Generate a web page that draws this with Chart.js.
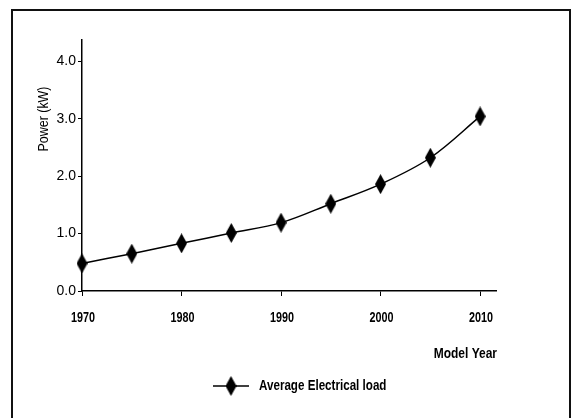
<!DOCTYPE html>
<html>
<head>
<meta charset="utf-8">
<script src="https://cdn.jsdelivr.net/npm/chart.js@4.4.0/dist/chart.umd.min.js"></script>
<style>
html, body { margin: 0; padding: 0; background: #fff; overflow: hidden; }
#wrap { position: relative; width: 572px; height: 418px; }
#frame { position: absolute; left: 11px; top: 9px; width: 556px; height: 430px; border: 2px solid #111; border-bottom: none; }
canvas { position: absolute; left: 0; top: 0; }
</style>
</head>
<body>
<div id="wrap">
  <div id="frame"></div>
  <canvas id="loadChart" width="572" height="418"></canvas>
</div>
<script>
// Data
const years = [1970, 1975, 1980, 1985, 1990, 1995, 2000, 2005, 2010];
const avgLoad = [0.48, 0.65, 0.83, 1.01, 1.19, 1.52, 1.86, 2.32, 3.04];
const xTicks = [1970, 1980, 1990, 2000, 2010];
const yTicks = [0, 1, 2, 3, 4];
const seriesLabel = 'Average Electrical load';
const xTitle = 'Model Year';
const yTitle = 'Power (kW)';

const sans = '"Liberation Sans", Arial, sans-serif';

// tall black diamond used as marker
function makeDiamond(w, h) {
    const c = document.createElement('canvas');
    c.width = w;
    c.height = h;
    const g = c.getContext('2d');
    g.fillStyle = '#000';
    g.beginPath();
    g.moveTo(w / 2, 0);
    g.lineTo(w, h / 2);
    g.lineTo(w / 2, h);
    g.lineTo(0, h / 2);
    g.closePath();
    g.fill();
    return c;
}
const diamond = makeDiamond(11, 20);

// squeezed text, the original uses a very condensed face
function narrowText(ctx, text, x, y, font, align, sx) {
    ctx.save();
    ctx.translate(x, y);
    ctx.scale(sx, 1);
    ctx.font = font;
    ctx.textAlign = align;
    ctx.textBaseline = 'middle';
    ctx.fillText(text, 0, 0);
    ctx.restore();
}

// tick years, axis titles and legend
const extras = {
    id: 'extras',
    afterDraw(chart) {
        const ctx = chart.ctx;
        const xs = chart.scales.x;
        ctx.save();
        ctx.fillStyle = '#000';

        xTicks.forEach(v => {
            narrowText(ctx, String(v), xs.getPixelForValue(v) + 1, 318, 'bold 15px ' + sans, 'center', 0.72);
        });

        ctx.save();
        ctx.translate(44, 119);
        ctx.rotate(-Math.PI / 2);
        narrowText(ctx, yTitle, 0, 0, '15px ' + sans, 'center', 0.83);
        ctx.restore();

        narrowText(ctx, xTitle, 497, 354, 'bold 15px ' + sans, 'right', 0.8);

        // legend
        ctx.strokeStyle = '#000';
        ctx.lineWidth = 1.5;
        ctx.beginPath();
        ctx.moveTo(213, 386);
        ctx.lineTo(249, 386);
        ctx.stroke();
        ctx.drawImage(diamond, 231 - 5.5, 386 - 10);
        narrowText(ctx, chart.data.datasets[0].label, 259, 386, 'bold 14px ' + sans, 'left', 0.83);
        ctx.restore();
    }
};

const ctx = document.getElementById('loadChart').getContext('2d');

new Chart(ctx, {
    type: 'line',
    data: {
        datasets: [{
            label: seriesLabel,
            data: years.map((y, i) => ({ x: y, y: avgLoad[i] })),
            borderColor: '#000',
            borderWidth: 1.5,
            tension: 0.35,
            pointStyle: diamond,
            pointRadius: 10,
            clip: false,
            fill: false
        }]
    },
    options: {
        responsive: false,
        animation: false,
        layout: { padding: { top: 40, right: 76, left: 0, bottom: 0 } },
        plugins: {
            legend: { display: false },
            tooltip: { enabled: false }
        },
        scales: {
            x: {
                type: 'linear',
                min: 1970,
                max: 2011.6,
                afterBuildTicks: (scale) => { scale.ticks = xTicks.map(v => ({ value: v })); },
                afterFit: (scale) => { scale.height = 127; },
                ticks: {
                    color: 'rgba(0,0,0,0)',
                    font: { family: sans, size: 13, weight: 'bold' },
                    padding: 14,
                    maxRotation: 0,
                    callback: (v) => String(v)
                },
                grid: { drawOnChartArea: false, color: '#000', tickLength: 5, lineWidth: 1 },
                border: { color: '#000', width: 1.5 }
            },
            y: {
                min: 0,
                max: 4.37,
                afterBuildTicks: (scale) => { scale.ticks = yTicks.map(v => ({ value: v })); },
                afterFit: (scale) => { scale.width = 82; },
                ticks: {
                    color: '#000',
                    font: { family: sans, size: 14 },
                    padding: 2,
                    callback: (v) => Number(v).toFixed(1)
                },
                grid: { drawOnChartArea: false, color: '#000', tickLength: 4, lineWidth: 1 },
                border: { color: '#000', width: 1.5 }
            }
        }
    },
    plugins: [extras]
});
</script>
</body>
</html>
